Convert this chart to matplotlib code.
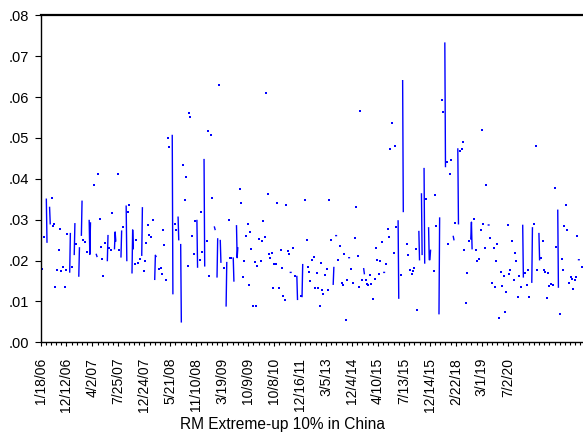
import matplotlib
matplotlib.use("Agg")
import matplotlib.pyplot as plt
import numpy as np
from matplotlib.ticker import MultipleLocator, FuncFormatter

plt.rcParams['font.family'] = ['Liberation Sans', 'DejaVu Sans']

# observation number (workfile row) and extreme-up return
obs = [1, 3, 5, 9, 10, 14, 15, 17, 19, 21, 23, 26, 28, 30, 32, 34, 37, 39, 41, 45, 46,
       48, 52, 53, 55, 59, 60, 63, 64, 66, 68, 71, 75, 76, 77, 82, 86, 87, 89, 91, 93,
       95, 97, 100, 103, 104, 106, 108, 110, 114, 115, 116, 119, 121, 124, 125, 127,
       132, 133, 135, 137, 141, 142, 143, 145, 147, 151, 153, 156, 157, 159, 161, 163,
       165, 167, 171, 173, 176, 177, 178, 182, 185, 187, 189, 191, 193, 196, 198, 203,
       204, 207, 209, 212, 213, 216, 217, 220, 222, 224, 227, 229, 231, 233, 236, 238,
       241, 242, 245, 247, 249, 252, 253, 256, 258, 260, 262, 265, 268, 269, 272, 273,
       275, 277, 278, 283, 286, 287, 290, 292, 294, 297, 298, 302, 303, 304, 307, 309,
       312, 314, 317, 319, 321, 323, 325, 327, 330, 332, 334, 336, 339, 341, 343, 346,
       348, 350, 352, 354, 356, 358, 360, 363, 365, 368, 370, 372, 374, 376, 378, 381,
       383, 385, 386, 389, 392, 395, 396, 401, 403, 404, 407, 410, 412, 414, 416, 418,
       421, 423, 426, 428, 430, 432, 434, 436, 439, 441, 443, 445, 448, 451, 452, 455,
       456, 459, 461, 464, 466, 468, 471, 473, 475, 476, 479, 481, 484, 486, 489, 491,
       493, 495, 498, 499, 501, 503, 505, 508, 510, 513, 515, 517, 519, 521, 523, 526,
       529, 530, 533, 535, 537, 539, 541, 544, 546, 548, 551, 552, 555, 558, 559, 564,
       566, 569, 572, 574, 576, 578, 580, 583, 584, 587, 588, 591, 592, 594, 598, 599,
       600, 601, 606, 608, 610, 614, 615, 618, 620, 623, 624, 626, 628, 631, 633, 636,
       637, 639, 643, 644, 647, 649, 651, 653, 655, 657, 660, 663, 664, 665, 668, 671,
       673, 676, 678, 680, 682, 685, 687, 690, 691, 693, 695, 698, 700, 702, 704, 706,
       709, 711, 714, 716, 718, 720, 722, 724, 727, 729, 731, 733, 735, 738, 740, 743,
       744, 747, 749, 751, 753, 757, 758, 761, 763, 765, 768, 769, 771, 774, 776, 778,
       780, 782, 784, 787, 789, 792, 794, 797, 798, 800, 803, 805, 807, 810, 812, 814,
       817, 819, 821, 823, 825, 827, 829, 830, 834]
ret = [0.0123, 0.0180, 0.0257, 0.0350, 0.0245, 0.0330, 0.0290, 0.0352, 0.0284, 0.0289,
       0.0135, 0.0178, 0.0227, 0.0276, 0.0174, 0.0183, 0.0136, 0.0176, 0.0266, 0.0172,
       0.0266, 0.0184, 0.0215, 0.0290, 0.0241, 0.0162, 0.0231, 0.0262, 0.0345, 0.0251,
       0.0245, 0.0222, 0.0298, 0.0215, 0.0292, 0.0384, 0.0215, 0.0210, 0.0411, 0.0301,
       0.0233, 0.0203, 0.0161, 0.0243, 0.0200, 0.0261, 0.0231, 0.0225, 0.0317, 0.0229,
       0.0270, 0.0248, 0.0411, 0.0226, 0.0209, 0.0272, 0.0282, 0.0333, 0.0200, 0.0320,
       0.0337, 0.0170, 0.0275, 0.0229, 0.0192, 0.0251, 0.0195, 0.0205, 0.0213, 0.0329,
       0.0175, 0.0198, 0.0243, 0.0288, 0.0262, 0.0257, 0.0300, 0.0154, 0.0213, 0.0210,
       0.0180, 0.0182, 0.0166, 0.0275, 0.0239, 0.0152, 0.0500, 0.0477, 0.0506, 0.0119,
       0.0290, 0.0274, 0.0306, 0.0251, 0.0239, 0.0050, 0.0434, 0.0349, 0.0404, 0.0186,
       0.0561, 0.0552, 0.0260, 0.0217, 0.0297, 0.0298, 0.0184, 0.0201, 0.0320, 0.0220,
       0.0447, 0.0187, 0.0249, 0.0516, 0.0161, 0.0507, 0.0353, 0.0282, 0.0276, 0.0160,
       0.0253, 0.0629, 0.0249, 0.0196, 0.0182, 0.0089, 0.0195, 0.0300, 0.0206, 0.0206,
       0.0206, 0.0150, 0.0285, 0.0207, 0.0231, 0.0376, 0.0342, 0.0160, 0.0200, 0.0259,
       0.0289, 0.0140, 0.0269, 0.0228, 0.0090, 0.0197, 0.0090, 0.0186, 0.0253, 0.0200,
       0.0248, 0.0296, 0.0258, 0.0609, 0.0364, 0.0215, 0.0207, 0.0218, 0.0133, 0.0191,
       0.0191, 0.0340, 0.0134, 0.0227, 0.0181, 0.0113, 0.0103, 0.0336, 0.0224, 0.0217,
       0.0171, 0.0171, 0.0230, 0.0161, 0.0161, 0.0105, 0.0113, 0.0112, 0.0190, 0.0347,
       0.0251, 0.0183, 0.0172, 0.0150, 0.0202, 0.0209, 0.0134, 0.0170, 0.0134, 0.0088,
       0.0194, 0.0129, 0.0118, 0.0165, 0.0180, 0.0127, 0.0347, 0.0251, 0.0142, 0.0183,
       0.0261, 0.0261, 0.0202, 0.0235, 0.0145, 0.0141, 0.0215, 0.0055, 0.0152, 0.0207,
       0.0207, 0.0180, 0.0145, 0.0255, 0.0332, 0.0210, 0.0135, 0.0566, 0.0153, 0.0180,
       0.0168, 0.0152, 0.0143, 0.0139, 0.0164, 0.0143, 0.0107, 0.0155, 0.0231, 0.0202,
       0.0168, 0.0199, 0.0246, 0.0171, 0.0171, 0.0191, 0.0277, 0.0257, 0.0473, 0.0536,
       0.0218, 0.0481, 0.0282, 0.0297, 0.0108, 0.0165, 0.0640, 0.0320, 0.0241, 0.0213,
       0.0178, 0.0166, 0.0174, 0.0182, 0.0229, 0.0080, 0.0271, 0.0202, 0.0363, 0.0215,
       0.0425, 0.0194, 0.0350, 0.0280, 0.0202, 0.0202, 0.0225, 0.0174, 0.0361, 0.0284,
       0.0070, 0.0304, 0.0592, 0.0564, 0.0732, 0.0430, 0.0440, 0.0241, 0.0411, 0.0447,
       0.0259, 0.0251, 0.0292, 0.0473, 0.0290, 0.0468, 0.0472, 0.0490, 0.0226, 0.0097,
       0.0169, 0.0249, 0.0253, 0.0294, 0.0229, 0.0301, 0.0225, 0.0199, 0.0204, 0.0274,
       0.0520, 0.0289, 0.0231, 0.0384, 0.0287, 0.0287, 0.0254, 0.0145, 0.0231, 0.0135,
       0.0200, 0.0241, 0.0060, 0.0171, 0.0137, 0.0161, 0.0074, 0.0124, 0.0288, 0.0168,
       0.0178, 0.0248, 0.0153, 0.0218, 0.0200, 0.0112, 0.0163, 0.0135, 0.0286, 0.0160,
       0.0169, 0.0141, 0.0178, 0.0112, 0.0147, 0.0280, 0.0290, 0.0481, 0.0178, 0.0266,
       0.0202, 0.0206, 0.0247, 0.0178, 0.0172, 0.0108, 0.0169, 0.0137, 0.0143, 0.0140,
       0.0377, 0.0233, 0.0323, 0.0135, 0.0070, 0.0204, 0.0178, 0.0284, 0.0337, 0.0275,
       0.0145, 0.0160, 0.0156, 0.0131, 0.0152, 0.0160, 0.0259, 0.0202, 0.0202, 0.0183]

n_obs = 860
label_every = 40
date_labels = ['1/18/06', '12/12/06', '4/2/07', '7/25/07', '12/24/07', '5/21/08',
               '11/10/08', '3/19/09', '10/9/09', '10/8/10', '12/16/11', '3/5/13',
               '12/4/14', '4/10/15', '7/13/15', '12/14/15', '2/22/18', '3/1/19', '7/2/20']

# full series with NA rows, like the workfile
series = np.full(n_obs, np.nan)
series[obs] = ret
x = np.arange(n_obs)
prev_na = np.isnan(np.r_[np.nan, series[:-1]])
next_na = np.isnan(np.r_[series[1:], np.nan])
alone = ~np.isnan(series) & prev_na & next_na

fig = plt.figure(figsize=(5.83, 4.41), dpi=100)
ax = fig.add_axes([40.5 / 583, 98.7 / 441, n_obs * 0.649 / 583, 327 / 441])

ax.plot(x, series, color='#0000FF', lw=1.0)
ax.plot(x[alone], series[alone], 's', color='#0000FF', ms=2.0, mew=0)

ax.set_xlim(0, n_obs)
ax.set_ylim(0, 0.08)
ax.yaxis.set_major_locator(MultipleLocator(0.01))
ax.yaxis.set_major_formatter(FuncFormatter(lambda v, p: f"{v:.2f}".lstrip('0')))
ax.set_xticks(np.arange(len(date_labels)) * label_every)
ax.set_xticklabels(date_labels, rotation=90)
ax.xaxis.set_minor_locator(MultipleLocator(label_every / 5))

ax.tick_params(axis='both', direction='out', colors='black', width=0.8)
ax.tick_params(axis='y', length=4, pad=4, labelsize=10.5)
ax.tick_params(axis='x', which='major', length=3.2, pad=8, labelsize=10)
ax.tick_params(axis='x', which='minor', length=2, width=0.8)
for s in ax.spines.values():
    s.set_linewidth(1.0)
ax.spines['top'].set_linewidth(1.6)

fig.text(282.5 / 583, 11.5 / 441, 'RM Extreme-up 10% in China', ha='center',
         va='baseline', fontsize=11.2)

fig.savefig('out.png', dpi=100)
